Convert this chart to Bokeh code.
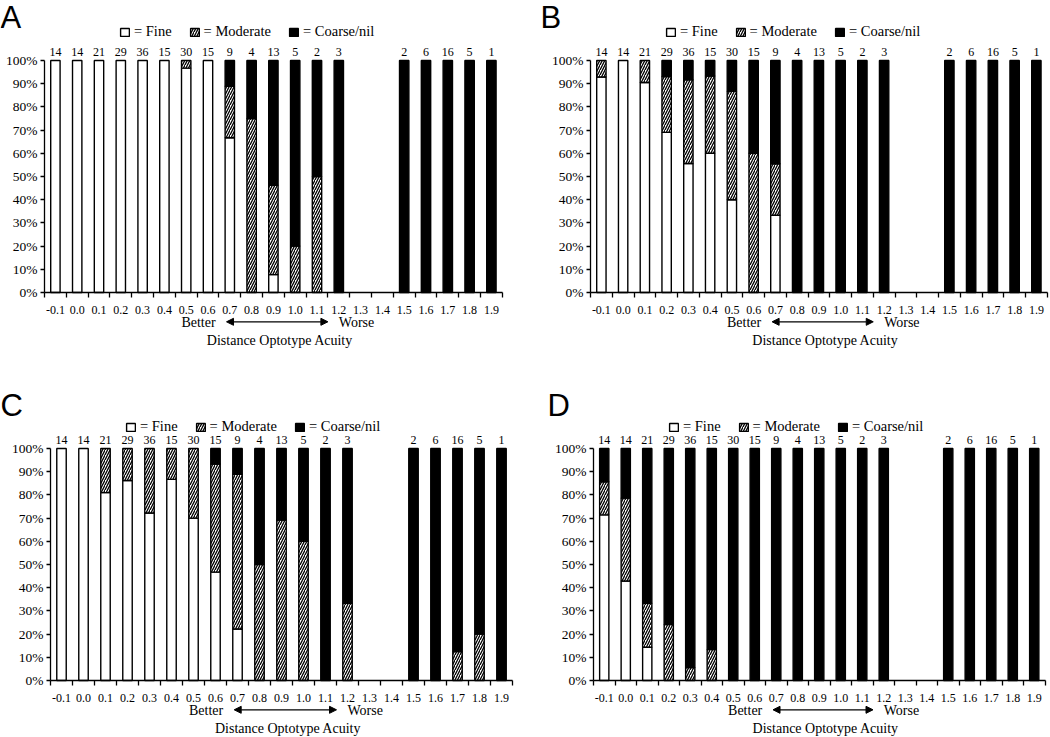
from bokeh.plotting import figure
from bokeh.models import (Range1d, FixedTicker, PrintfTickFormatter, Label, LabelSet,
                          ColumnDataSource, Arrow, NormalHead, Legend, LegendItem)
from bokeh.layouts import column, row
from bokeh.embed import file_html
from bokeh.resources import INLINE

# ---------------- data ----------------
categories = ["-0.1", "0.0", "0.1", "0.2", "0.3", "0.4", "0.5", "0.6", "0.7", "0.8",
              "0.9", "1.0", "1.1", "1.2", "1.3", "1.4", "1.5", "1.6", "1.7", "1.8", "1.9"]
counts = [14, 14, 21, 29, 36, 15, 30, 15, 9, 4, 13, 5, 2, 3, None, None, 2, 6, 16, 5, 1]

a_fine   = [100, 100, 100, 100, 100, 100, 96.7, 100, 66.7, 0, 7.7, 0, 0, 0, None, None, 0, 0, 0, 0, 0]
a_mod    = [0, 0, 0, 0, 0, 0, 3.3, 0, 22.2, 75, 38.5, 20, 50, 0, None, None, 0, 0, 0, 0, 0]
a_coarse = [0, 0, 0, 0, 0, 0, 0, 0, 11.1, 25, 53.8, 80, 50, 100, None, None, 100, 100, 100, 100, 100]

b_fine   = [92.9, 100, 90.5, 69.0, 55.6, 60.0, 40.0, 0, 33.3, 0, 0, 0, 0, 0, None, None, 0, 0, 0, 0, 0]
b_mod    = [7.1, 0, 9.5, 24.1, 36.1, 33.3, 46.7, 60.0, 22.2, 0, 0, 0, 0, 0, None, None, 0, 0, 0, 0, 0]
b_coarse = [0, 0, 0, 6.9, 8.3, 6.7, 13.3, 40.0, 44.5, 100, 100, 100, 100, 100, None, None, 100, 100, 100, 100, 100]

c_fine   = [100, 100, 81.0, 86.2, 72.2, 86.7, 70.0, 46.7, 22.2, 0, 0, 0, 0, 0, None, None, 0, 0, 0, 0, 0]
c_mod    = [0, 0, 19.0, 13.8, 27.8, 13.3, 30.0, 46.6, 66.7, 50, 69.2, 60, 0, 33.3, None, None, 0, 0, 12.5, 20, 0]
c_coarse = [0, 0, 0, 0, 0, 0, 0, 6.7, 11.1, 50, 30.8, 40, 100, 66.7, None, None, 100, 100, 87.5, 80, 100]

d_fine   = [71.4, 42.9, 14.3, 0, 0, 0, 0, 0, 0, 0, 0, 0, 0, 0, None, None, 0, 0, 0, 0, 0]
d_mod    = [14.3, 35.7, 19.0, 24.1, 5.6, 13.3, 0, 0, 0, 0, 0, 0, 0, 0, None, None, 0, 0, 0, 0, 0]
d_coarse = [14.3, 21.4, 66.7, 75.9, 94.4, 86.7, 100, 100, 100, 100, 100, 100, 100, 100, None, None, 100, 100, 100, 100, 100]

y_ticks = [0, 10, 20, 30, 40, 50, 60, 70, 80, 90, 100]
legend_labels = ["= Fine", "= Moderate", "= Coarse/nil"]
x_title = "Distance Optotype Acuity"
better_text = "Better"
worse_text = "Worse"

SERIF = "Liberation Serif"
SANS = "Liberation Sans"
PPY = 2.32   # px per percent


def make_panel(letter, fine, mod, coarse, width, height, axis_px, ppx, zero_fy,
               legend_above_px, counts_above_px, letter_x_px, letter_base_px):
    hundred_fy = zero_fy - 100 * PPY
    y_end = 100 + hundred_fy / PPY
    y_start = -(height - zero_fy) / PPY
    x_start = -0.5 - axis_px / ppx
    x_end = -0.5 + (width - axis_px) / ppx

    def fy(py):  # figure px (from top) -> data y
        return y_end - py / PPY

    def fx(px):  # figure px (from left) -> data x
        return -0.5 + (px - axis_px) / ppx

    p = figure(width=width, height=height, output_backend="svg", toolbar_location=None,
               x_range=Range1d(x_start, x_end), y_range=Range1d(y_start, y_end),
               min_border_left=0, min_border_right=0,
               min_border_top=0, min_border_bottom=0)
    p.outline_line_color = None
    p.grid.visible = False
    p.background_fill_color = "white"
    p.border_fill_color = "white"

    n = len(categories)
    segs = {"fine": dict(x=[], b=[], t=[]), "mod": dict(x=[], b=[], t=[]), "coarse": dict(x=[], b=[], t=[])}
    for i in range(n):
        if fine[i] is None:
            continue
        f, m, c = fine[i], mod[i], coarse[i]
        if f > 0:
            segs["fine"]["x"].append(i); segs["fine"]["b"].append(0); segs["fine"]["t"].append(f)
        if m > 0:
            segs["mod"]["x"].append(i); segs["mod"]["b"].append(f); segs["mod"]["t"].append(f + m)
        if c > 0:
            segs["coarse"]["x"].append(i); segs["coarse"]["b"].append(f + m); segs["coarse"]["t"].append(f + m + c)

    bw = 0.43
    r_fine = p.vbar(x="x", bottom="b", top="t", width=bw, source=ColumnDataSource(segs["fine"]),
                    fill_color="white", line_color="black", line_width=1.4)
    r_mod = p.vbar(x="x", bottom="b", top="t", width=bw, source=ColumnDataSource(segs["mod"]),
                   fill_color="white", line_color="black", line_width=1.4,
                   hatch_pattern="right_diagonal_line", hatch_color="black",
                   hatch_weight=1.3, hatch_scale=5)
    r_coarse = p.vbar(x="x", bottom="b", top="t", width=bw, source=ColumnDataSource(segs["coarse"]),
                      fill_color="black", line_color="black", line_width=1.4)

    # y axis, drawn at the left edge of the categories
    yax = p.yaxis[0]
    yax.fixed_location = -0.5
    yax.ticker = FixedTicker(ticks=y_ticks)
    yax.formatter = PrintfTickFormatter(format="%d%%")
    yax.bounds = (0, 100)
    yax.major_tick_out = 4
    yax.major_tick_in = 0
    yax.minor_tick_out = 0
    yax.minor_tick_in = 0
    yax.major_label_standoff = 3
    yax.axis_line_width = 1.3
    yax.major_tick_line_width = 1.3
    yax.major_label_text_font = SERIF
    yax.major_label_text_font_size = "13.5px"
    yax.major_label_text_color = "black"

    # x axis, drawn at y = 0
    xax = p.xaxis[0]
    xax.fixed_location = 0
    xax.bounds = (-0.5, 20.5)
    xax.ticker = FixedTicker(ticks=list(range(n)), minor_ticks=[i - 0.5 for i in range(n + 1)])
    xax.major_label_overrides = {i: c for i, c in enumerate(categories)}
    xax.major_tick_out = 0
    xax.major_tick_in = 0
    xax.minor_tick_out = 5
    xax.minor_tick_in = 0
    xax.minor_tick_line_width = 1.3
    xax.minor_tick_line_color = "black"
    xax.axis_line_width = 1.3
    xax.major_label_standoff = 8
    xax.major_label_text_font = SERIF
    xax.major_label_text_font_size = "12px"
    xax.major_label_text_color = "black"

    # counts above bars
    cx = [i for i in range(n) if counts[i] is not None]
    ct = [str(counts[i]) for i in cx]
    csrc = ColumnDataSource(dict(x=cx, y=[fy(hundred_fy - counts_above_px)] * len(cx), t=ct))
    p.add_layout(LabelSet(x="x", y="y", text="t", source=csrc, text_align="center",
                          text_baseline="middle", text_font=SERIF, text_font_size="12px",
                          text_color="black"))

    # legend
    leg_h = 16
    legend = Legend(items=[LegendItem(label=legend_labels[0], renderers=[r_fine]),
                           LegendItem(label=legend_labels[1], renderers=[r_mod]),
                           LegendItem(label=legend_labels[2], renderers=[r_coarse])],
                    orientation="horizontal",
                    location=(axis_px + 75,
                              height - (hundred_fy - legend_above_px) - leg_h / 2),
                    glyph_width=11, glyph_height=10, label_height=leg_h, label_standoff=4,
                    spacing=17, padding=0, margin=0, border_line_color=None,
                    background_fill_alpha=0, label_text_font=SERIF,
                    label_text_font_size="14.5px", label_text_color="black")
    p.add_layout(legend)

    # panel letter
    p.add_layout(Label(x=fx(letter_x_px), y=fy(letter_base_px),
                       text=letter, text_font=SANS, text_font_size="31px",
                       text_align="left", text_baseline="alphabetic", text_color="black"))

    # better / worse and title
    yb = fy(zero_fy + 30)
    p.add_layout(Label(x=7.35, y=yb, text=better_text, text_font=SERIF, text_font_size="14px",
                       text_align="right", text_baseline="middle", text_color="black"))
    p.add_layout(Label(x=13.0, y=yb, text=worse_text, text_font=SERIF, text_font_size="14px",
                       text_align="left", text_baseline="middle", text_color="black"))
    p.add_layout(Arrow(x_start=7.85, y_start=yb + 0.3, x_end=12.5, y_end=yb + 0.3,
                       line_color="black", line_width=1.2,
                       start=NormalHead(size=7, fill_color="black", line_color="black"),
                       end=NormalHead(size=7, fill_color="black", line_color="black")))
    p.add_layout(Label(x=10.3, y=fy(zero_fy + 48), text=x_title, text_font=SERIF,
                       text_font_size="14px", text_align="center", text_baseline="middle",
                       text_color="black"))
    return p


H1 = 370
H2 = 367
pA = make_panel("A", a_fine, a_mod, a_coarse, 525, H1, axis_px=44, ppx=21.8, zero_fy=292,
                legend_above_px=28, counts_above_px=8.5, letter_x_px=0, letter_base_px=17)
pB = make_panel("B", b_fine, b_mod, b_coarse, 525, H1, axis_px=65, ppx=21.75, zero_fy=292,
                legend_above_px=28, counts_above_px=8.5, letter_x_px=15, letter_base_px=17)
pC = make_panel("C", c_fine, c_mod, c_coarse, 525, H2, axis_px=50, ppx=22.0, zero_fy=310,
                legend_above_px=21, counts_above_px=9, letter_x_px=0, letter_base_px=35)
pD = make_panel("D", d_fine, d_mod, d_coarse, 525, H2, axis_px=68, ppx=21.5, zero_fy=310,
                legend_above_px=21, counts_above_px=9, letter_x_px=22, letter_base_px=35)

layout = column(row(pA, pB), row(pC, pD))
open("out.html", "w").write(file_html(layout, INLINE))
